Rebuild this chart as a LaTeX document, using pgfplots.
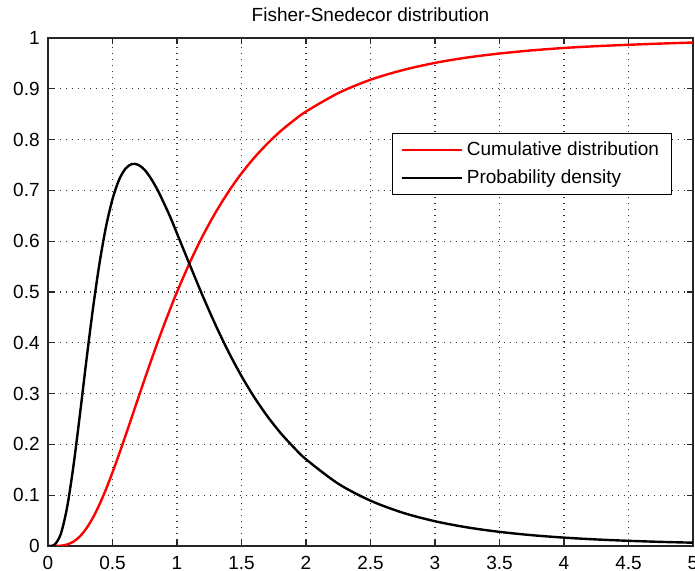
\documentclass[border=0pt]{standalone}
\usepackage{fontspec}
\setmainfont{Liberation Sans}
\usepackage{pgfplots}
\pgfplotsset{compat=1.18}
\usetikzlibrary{calc}

\begin{document}
\begin{tikzpicture}
\begin{axis}[
  name=ax,
  scale only axis,
  width=322.5pt,height=254pt,
  xmin=0,xmax=5,ymin=0,ymax=1,
  xtick={0,0.5,...,5},
  ytick={0,0.1,...,1},
  /pgf/number format/assume math mode=true,
  font=\fontsize{9.5}{11}\selectfont,
  axis line style={line width=0.9pt,black!85},
  major tick length=3pt,
  tick style={line width=0.6pt,black!85},
  grid=major,
  major grid style={black!80,line width=0.6pt,dash pattern=on 0.6pt off 2.4pt},
  xticklabel style={inner sep=0pt,anchor=base,yshift=-12pt},
  yticklabel style={inner sep=0pt,anchor=east,xshift=-4pt},
  title={Fisher-Snedecor distribution},
  title style={font=\fontsize{9.5}{11}\selectfont,anchor=base,at={(0.5,1)},yshift=2pt,inner sep=0pt},
  legend style={at={(0.967,0.813)},anchor=north east,draw=black,line width=0.6pt,
    font=\fontsize{9.5}{11}\selectfont,inner xsep=4pt,inner ysep=2pt,row sep=1.5pt},
  legend cell align=left,
  legend image code/.code={\draw[#1] (0pt,0pt) -- (30pt,0pt);},
]
\addplot[red,line width=1.2pt,smooth] coordinates {
(0,0) (0.05,0.00003) (0.1,0.0006) (0.15,0.0030) (0.2,0.0090) (0.25,0.0196)
(0.3,0.0355) (0.35,0.0565) (0.4,0.0823) (0.45,0.1120) (0.5,0.1449)
(0.55,0.1800) (0.6,0.2166) (0.65,0.2540) (0.7,0.2916) (0.75,0.3290)
(0.8,0.3655) (0.85,0.4011) (0.9,0.4355) (0.95,0.4684) (1.0,0.5)
(1.1,0.5584) (1.2,0.6108) (1.3,0.6569) (1.4,0.6977) (1.5,0.7335)
(1.6,0.7647) (1.7,0.7920) (1.8,0.8160) (1.9,0.8367) (2.0,0.8552)
(2.25,0.8915) (2.5,0.9178) (2.75,0.9368) (3.0,0.9510) (3.25,0.9616)
(3.5,0.9694) (3.75,0.9756) (4.0,0.9804) (4.25,0.9839) (4.5,0.9866)
(4.75,0.9890) (5.0,0.9911)};
\addlegendentry{Cumulative distribution}
\addplot[black,line width=1.2pt,smooth] coordinates {
(0,0) (0.05,0.0024) (0.1,0.0243) (0.15,0.0788) (0.2,0.1628) (0.25,0.2642)
(0.3,0.3702) (0.35,0.4702) (0.4,0.5576) (0.45,0.6289) (0.5,0.6828)
(0.55,0.7203) (0.6,0.7426) (0.65,0.7519) (0.7,0.7503) (0.75,0.7402)
(0.8,0.7227) (0.85,0.7005) (0.9,0.6742) (0.95,0.6463) (1.0,0.6152)
(1.1,0.5530) (1.2,0.4919) (1.3,0.4344) (1.4,0.3817) (1.5,0.3344)
(1.6,0.2925) (1.7,0.2556) (1.8,0.2233) (1.9,0.1955) (2.0,0.1707)
(2.25,0.1226) (2.5,0.0892) (2.75,0.0655) (3.0,0.0487) (3.25,0.0366)
(3.5,0.0278) (3.75,0.0213) (4.0,0.0165) (4.25,0.0129) (4.5,0.0102)
(4.75,0.0081) (5.0,0.0065)};
\addlegendentry{Probability density}
\end{axis}
\pgfresetboundingbox
\useasboundingbox ($(ax.south west)+(-24pt,-12.5pt)$) rectangle ($(ax.north east)+(1pt,19pt)$);
\end{tikzpicture}
\end{document}
